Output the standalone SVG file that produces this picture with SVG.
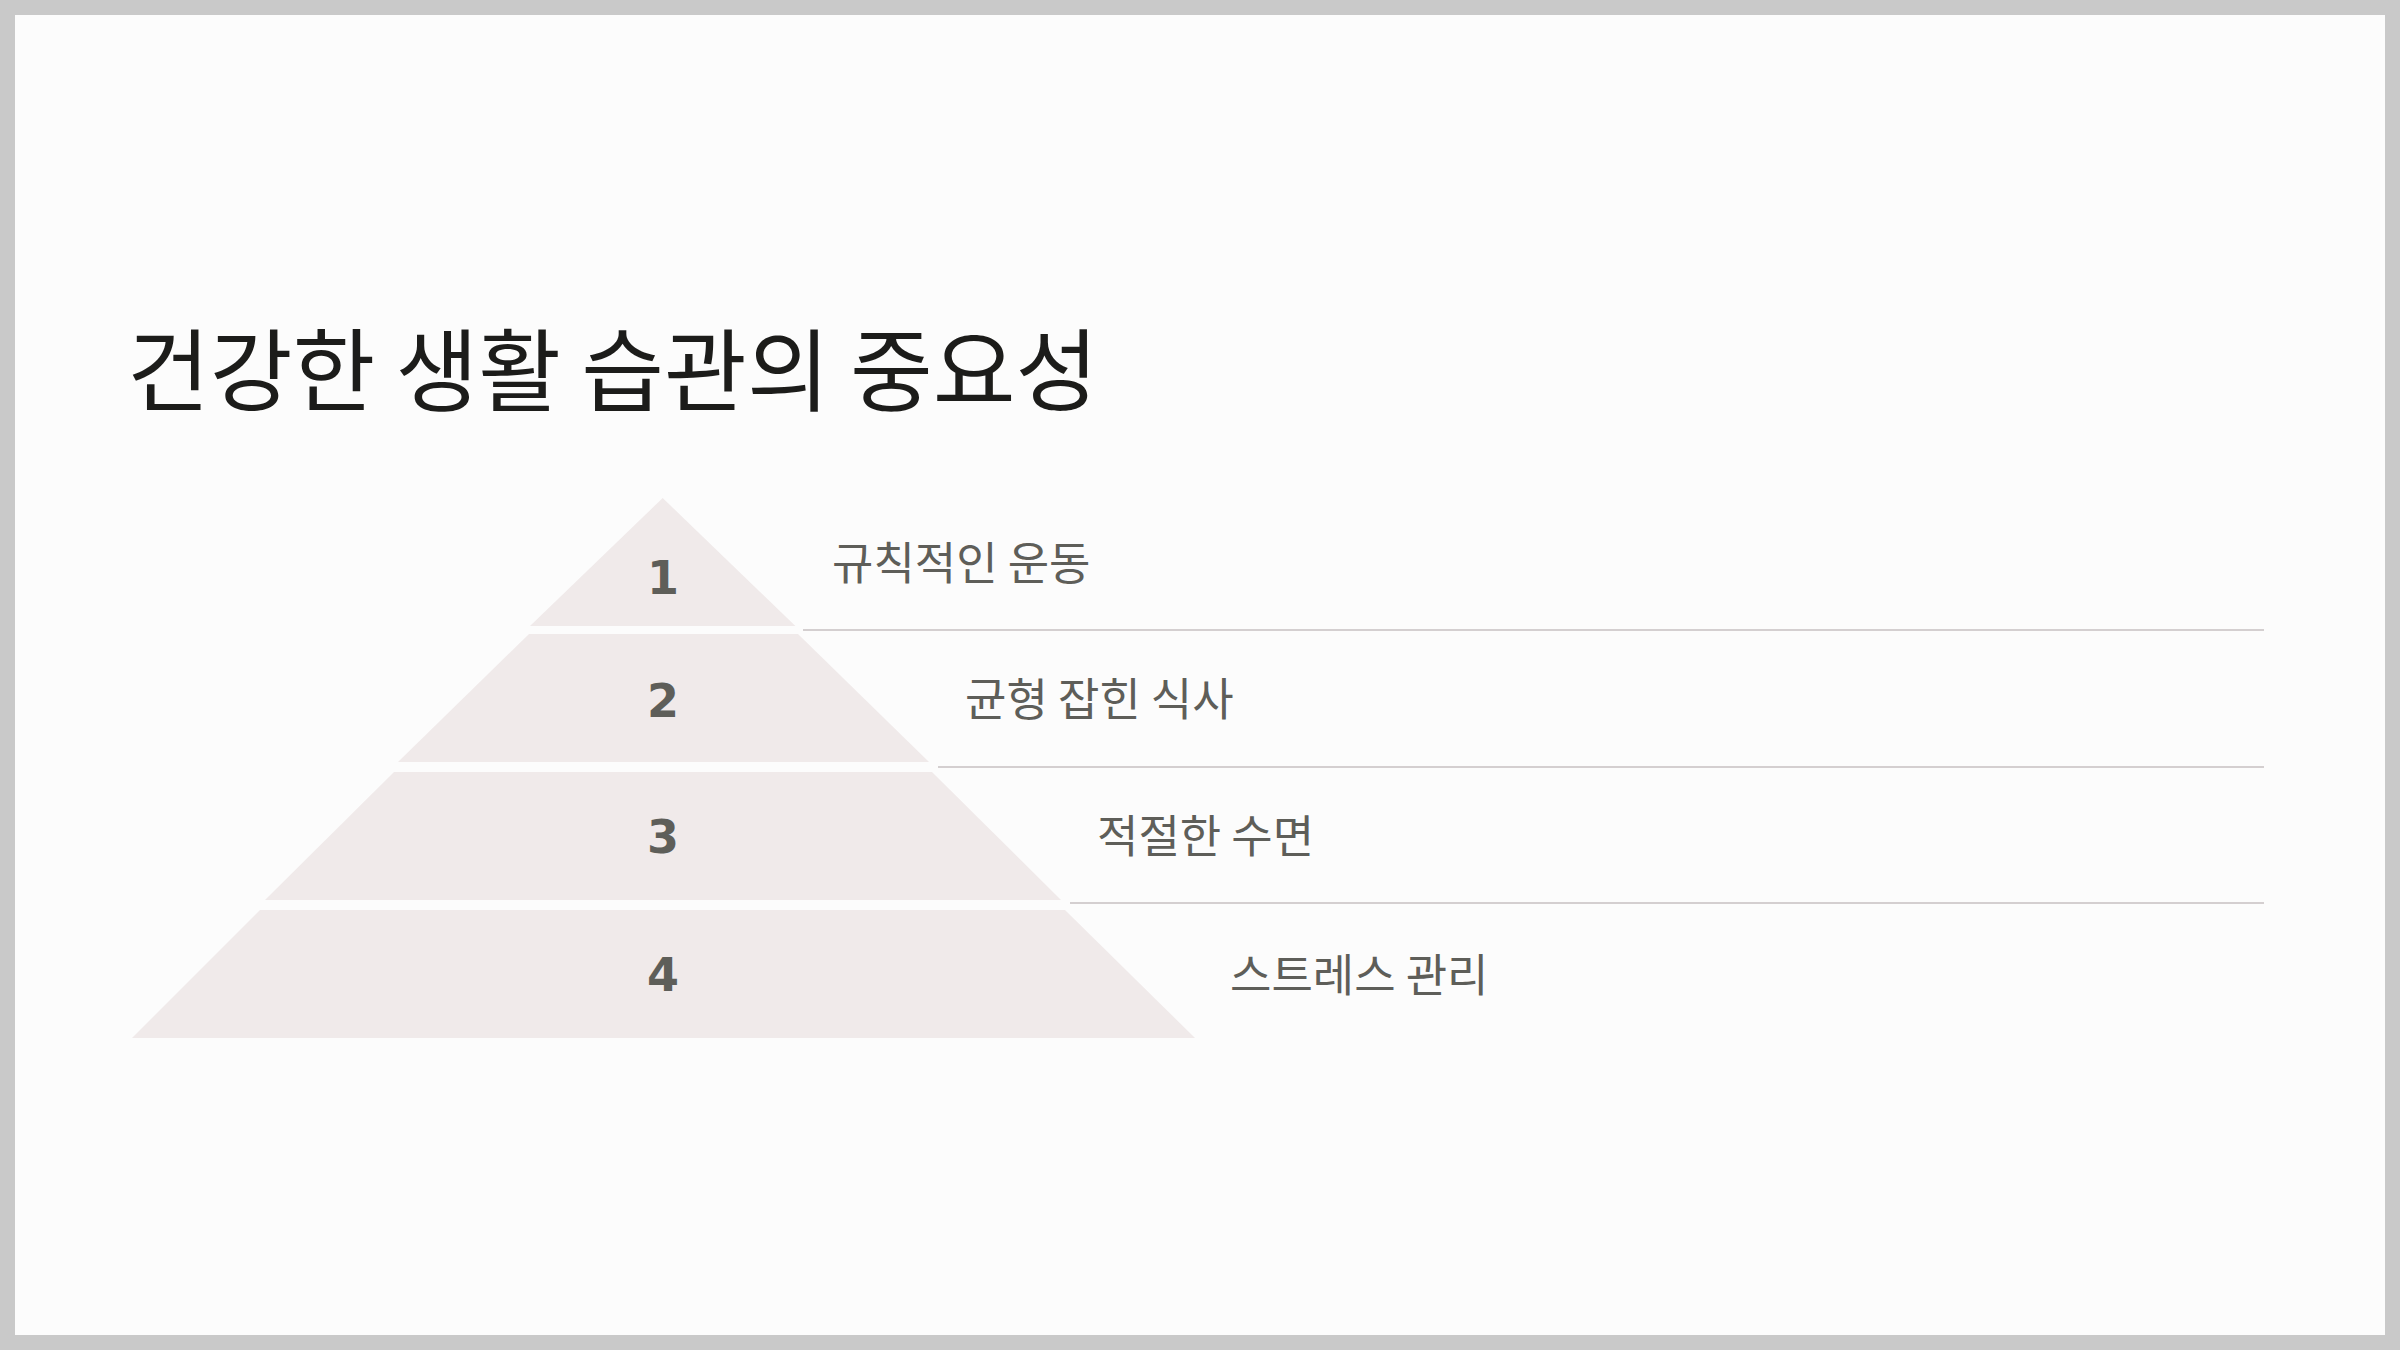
<svg xmlns="http://www.w3.org/2000/svg" width="2400" height="1350" viewBox="0 0 2400 1350">
<style>
.tier{fill:#f0eaea;}
.num{font-family:"DejaVu Sans",sans-serif;font-weight:bold;font-size:46px;fill:#5e5e59;text-anchor:middle;}
.lbl{font-family:"Noto Sans CJK KR","Noto Sans",sans-serif;font-size:45px;fill:#5e5e59;}
.title{font-family:"Noto Sans CJK KR","Noto Sans",sans-serif;font-size:90px;fill:#1c1c1a;}
.sep{stroke:#d4cfd0;stroke-width:2;}
</style>
<rect x="0" y="0" width="2400" height="1350" fill="#c9c9c9"/>
<rect x="15" y="15" width="2370" height="1320" fill="#fcfcfc"/>
<text class="title" x="127" y="404">건강한 생활 습관의 중요성</text>
<g id="connectors">
<line class="sep" x1="803" y1="630" x2="2264" y2="630"/>
<line class="sep" x1="938" y1="767" x2="2264" y2="767"/>
<line class="sep" x1="1070" y1="903" x2="2264" y2="903"/>
</g>
<g id="tier1">
<polygon class="tier" points="662.7,498 795.4,626 530,626"/>
<text class="num" x="663" y="594">1</text>
<text class="lbl" x="832" y="580">규칙적인 운동</text>
</g>
<g id="tier2">
<polygon class="tier" points="529,634 798,634 929,762 398,762"/>
<text class="num" x="663" y="717">2</text>
<text class="lbl" x="965" y="716">균형 잡힌 식사</text>
</g>
<g id="tier3">
<polygon class="tier" points="394,772 932,772 1061,900 265,900"/>
<text class="num" x="663" y="853">3</text>
<text class="lbl" x="1097" y="853">적절한 수면</text>
</g>
<g id="tier4">
<polygon class="tier" points="260,910 1065,910 1195,1038 132,1038"/>
<text class="num" x="663" y="991">4</text>
<text class="lbl" x="1230" y="992">스트레스 관리</text>
</g>
</svg>
